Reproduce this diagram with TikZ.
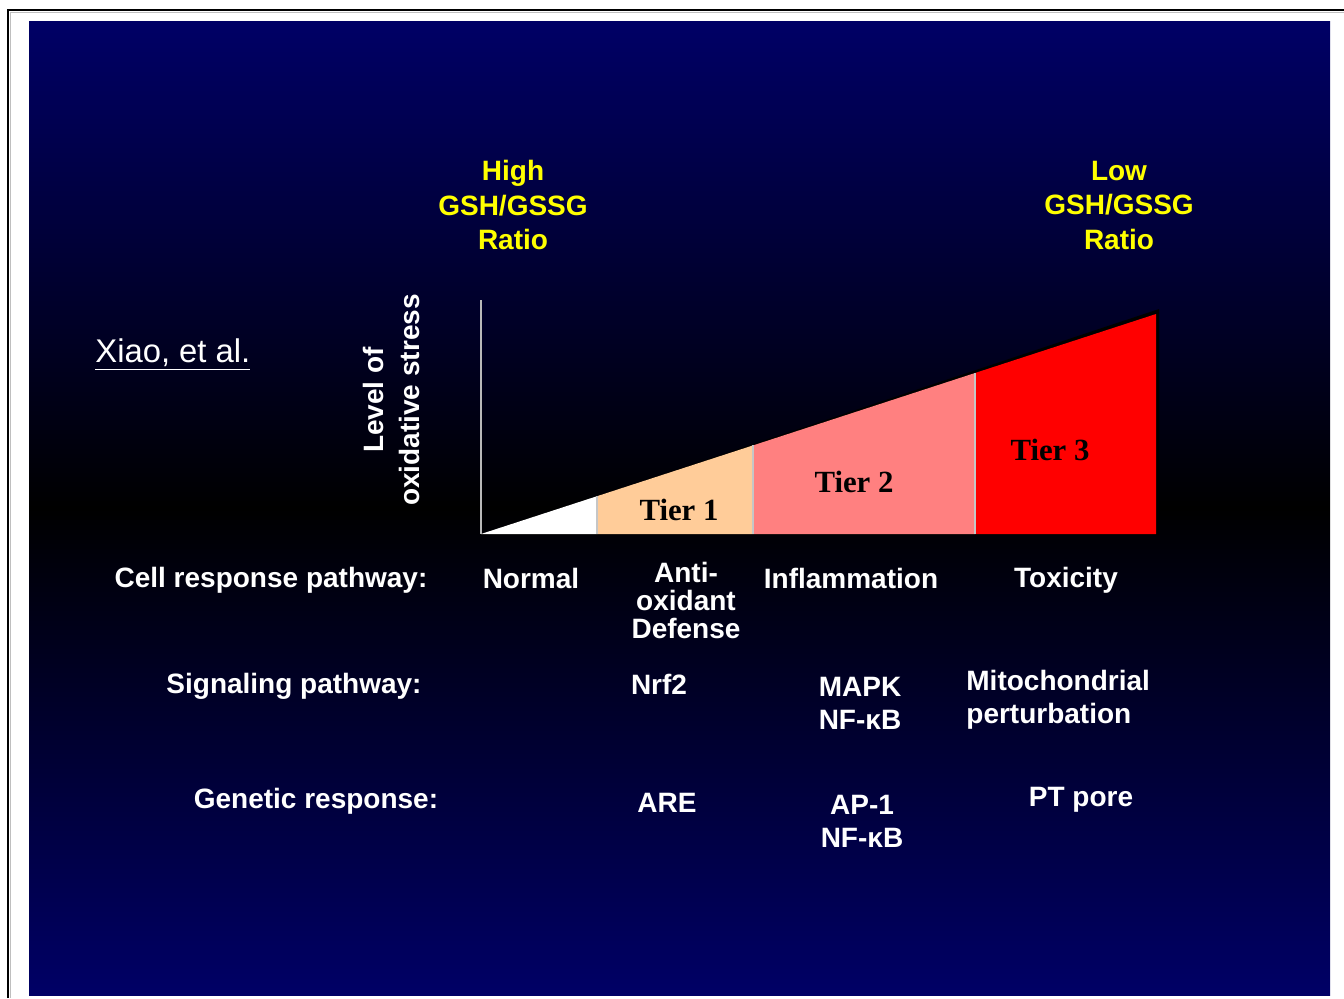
\documentclass[tikz,border=0pt]{standalone}
\usepackage{fontspec}
\setmainfont{Liberation Sans}
\newfontfamily\tierfont{Liberation Serif}
\usepackage{xcolor}
\usetikzlibrary{positioning}

\definecolor{slidenavy}{RGB}{0,0,102}
\definecolor{tierpeach}{HTML}{FFCC99}
\definecolor{tiersalmon}{HTML}{FF8080}
\definecolor{tierred}{HTML}{FF0000}
\definecolor{ratioyellow}{HTML}{FFFF00}

\begin{document}
\begin{tikzpicture}[
  x=0.5pt, y=-0.5pt,
  lbl/.style={text=white, font=\fontsize{14}{16.5}\selectfont\bfseries, align=center, inner sep=0pt},
  ratio/.style={text=ratioyellow, font=\fontsize{14}{17.25}\selectfont\bfseries, align=center, inner sep=0pt},
  tier/.style={font=\tierfont\fontsize{15.4}{18}\selectfont\bfseries, text=black, inner sep=0pt},
  divider/.style={draw=gray!45, line width=0.6pt}
]
\useasboundingbox (0,0) rectangle (1344,998);

% page frame and slide
\draw[gray!50, line width=0.8pt] (10.5,998) -- (10.5,12.5) -- (1344,12.5);
\draw[black, line width=1pt] (8,998) -- (8,10) -- (1344,10);
\shade[top color=slidenavy, bottom color=slidenavy, middle color=black]
  (29,21) rectangle (1330,995);

% wedge
\fill[black] (480,535) -- (1159,309) -- (1159,535) -- cycle;
\fill[white] (481,534) -- (597,496.2) -- (597,534) -- cycle;
\fill[tierpeach] (597,496.2) -- (753,445.4) -- (753,534) -- (597,534) -- cycle;
\fill[tiersalmon] (753,445.4) -- (975,373) -- (975,534) -- (753,534) -- cycle;
\fill[tierred] (975,373) -- (1156,314) -- (1156,534) -- (975,534) -- cycle;
\draw[divider] (597,496.2) -- (597,534);
\draw[divider] (753,445.4) -- (753,534);
\draw[divider] (975,373) -- (975,534);
\draw[gray!55, line width=1pt] (481,300) -- (481,534);

\node[tier] (tierone) at (679,510) {Tier 1};
\node[tier] (tiertwo) at (854,482) {Tier 2};
\node[tier] (tierthree) at (1050,450) {Tier 3};

% ratio headers
\node[ratio] (hiratio) at (513,205) {High\\GSH/GSSG\\Ratio};
\node[ratio] (loratio) at (1119,205) {Low\\GSH/GSSG\\Ratio};

\node[text=white, font=\fontsize{16.4}{19}\selectfont, anchor=west, inner sep=0pt]
  (xiao) at (95,355) {\underline{Xiao, et al.}};
\node[lbl, font=\fontsize{14}{18}\selectfont\bfseries, rotate=90] (level) at (391,400)
  {Level of\\oxidative stress};

% cell response row
\node[lbl] (rowcell) at (271,580) {Cell response pathway:};
\node[lbl] (normal) at (531,578) {Normal};
\node[lbl, font=\fontsize{14}{14}\selectfont\bfseries] (antiox) at (686,600) {Anti-\\oxidant\\Defense};
\node[lbl] (inflam) at (851,578) {Inflammation};
\node[lbl] (toxic) at (1066,580) {Toxicity};

% signaling row
\node[lbl] (rowsig) at (294,686) {Signaling pathway:};
\node[lbl] (nrf) at (659,684) {Nrf2};
\node[lbl] (mapk) at (860,703) {MAPK\\NF-κB};
\node[lbl, align=left, anchor=west] (mito) at (966,700) {Mitochondrial\\perturbation};

% genetic row
\node[lbl] (rowgen) at (316,801) {Genetic response:};
\node[lbl] (are) at (667,803) {ARE};
\node[lbl] (apone) at (862,821) {AP-1\\NF-κB};
\node[lbl] (ptpore) at (1081,800) {PT pore};

\end{tikzpicture}
\end{document}
